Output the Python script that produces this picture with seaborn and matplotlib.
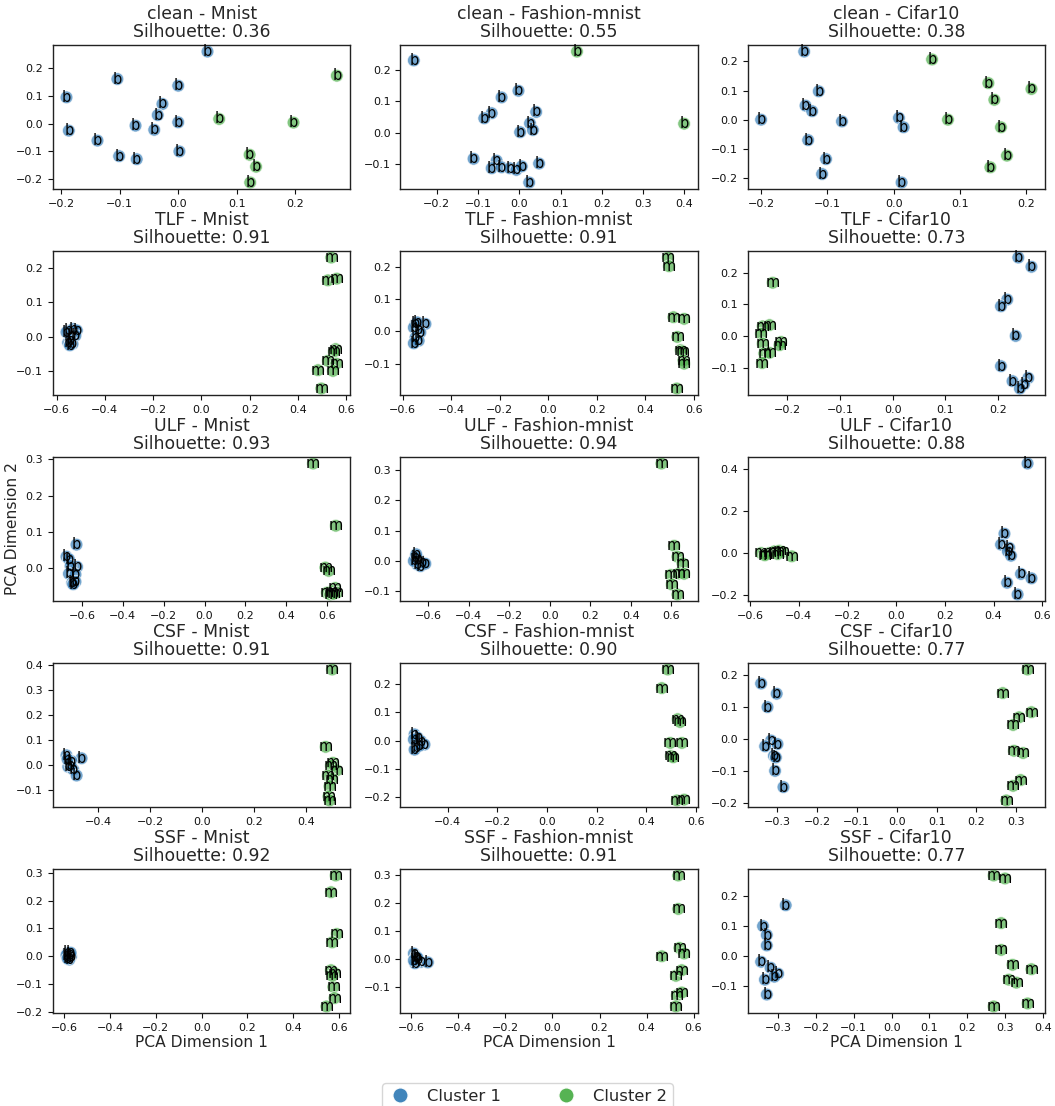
import numpy as np
import pandas as pd
import matplotlib
matplotlib.use("Agg")
import matplotlib.pyplot as plt
from matplotlib.lines import Line2D
import seaborn as sns

# ---- data: 2-D PCA projections of client updates, per attack / dataset ----
methods = ["clean", "TLF", "ULF", "CSF", "SSF"]
datasets = ["Mnist", "Fashion-mnist", "Cifar10"]
silhouette = [[0.36, 0.55, 0.38],
              [0.91, 0.91, 0.73],
              [0.93, 0.94, 0.88],
              [0.91, 0.90, 0.77],
              [0.92, 0.91, 0.77]]

# clean
clean_mnist_x = [0.050, -0.104, 0.000, -0.191, -0.027, -0.035, 0.000, -0.073, -0.041, -0.187, -0.138, 0.002, -0.101, -0.071,
                 0.271, 0.070, 0.197, 0.122, 0.133, 0.123]
clean_mnist_y = [0.260, 0.161, 0.137, 0.095, 0.071, 0.031, 0.005, -0.007, -0.022, -0.025, -0.061, -0.100, -0.117, -0.128,
                 0.173, 0.017, 0.004, -0.112, -0.155, -0.212]
clean_mnist_cluster = [1] * 14 + [2] * 6
clean_mnist_label = "b" * 20

clean_fashion_x = [-0.256, -0.002, -0.043, -0.067, -0.085, 0.041, 0.026, 0.033, 0.002, -0.111, -0.055, 0.048, -0.067,
                   -0.043, -0.023, -0.007, 0.006, 0.024, 0.140, 0.400]
clean_fashion_y = [0.229, 0.133, 0.112, 0.062, 0.046, 0.066, 0.030, 0.009, 0.002, -0.082, -0.088, -0.097, -0.112,
                   -0.109, -0.112, -0.117, -0.106, -0.157, 0.257, 0.029]
clean_fashion_cluster = [1] * 18 + [2] * 2
clean_fashion_label = "b" * 20

clean_cifar_x = [-0.135, -0.113, -0.133, -0.123, -0.200, -0.078, 0.008, 0.015, -0.129, -0.102, -0.108, 0.012,
                 0.058, 0.143, 0.208, 0.152, 0.082, 0.162, 0.171, 0.146]
clean_cifar_y = [0.234, 0.098, 0.049, 0.030, 0.001, -0.005, 0.007, -0.025, -0.069, -0.134, -0.185, -0.214,
                 0.207, 0.126, 0.106, 0.069, 0.001, -0.025, -0.122, -0.162]
clean_cifar_cluster = [1] * 12 + [2] * 8
clean_cifar_label = "b" * 20

# TLF
tlf_mnist_x = [-0.552, -0.531, -0.516, -0.538, -0.522, -0.552, -0.534, -0.542, -0.559, -0.545,
               0.538, 0.524, 0.561, 0.556, 0.549, 0.524, 0.559, 0.483, 0.545, 0.497]
tlf_mnist_y = [0.017, 0.022, 0.018, 0.003, 0.003, -0.017, -0.021, -0.010, 0.013, -0.025,
               0.229, 0.163, 0.168, -0.036, -0.043, -0.070, -0.078, -0.097, -0.099, -0.150]
tlf_mnist_cluster = [1] * 10 + [2] * 10
tlf_mnist_label = "b" * 10 + "m" * 10

tlf_fashion_x = [-0.547, -0.506, -0.534, -0.554, -0.527, -0.547, -0.534, -0.554, -0.540,
                 0.494, 0.498, 0.516, 0.560, 0.532, 0.546, 0.553, 0.557, 0.560, 0.530]
tlf_fashion_y = [0.023, 0.023, 0.007, 0.012, -0.003, -0.019, -0.029, -0.037, 0.028,
                 0.229, 0.202, 0.044, 0.039, -0.017, -0.058, -0.062, -0.090, -0.100, -0.177]
tlf_fashion_cluster = [1] * 9 + [2] * 10
tlf_fashion_label = "b" * 9 + "m" * 10

tlf_cifar_x = [0.239, 0.264, 0.218, 0.206, 0.234, 0.206, 0.228, 0.258, 0.250, 0.242,
               -0.228, -0.247, -0.234, -0.250, -0.212, -0.215, -0.247, -0.244, -0.234, -0.248]
tlf_cifar_y = [0.247, 0.218, 0.115, 0.094, 0.001, -0.094, -0.141, -0.131, -0.151, -0.164,
               0.168, 0.031, 0.035, 0.008, -0.018, -0.028, -0.023, -0.054, -0.052, -0.084]
tlf_cifar_cluster = [1] * 10 + [2] * 10
tlf_cifar_label = "b" * 10 + "m" * 10

# ULF
ulf_mnist_x = [-0.627, -0.676, -0.664, -0.624, -0.656, -0.664, -0.632, -0.648, -0.632, -0.643,
               0.532, 0.643, 0.592, 0.608, 0.640, 0.624, 0.600, 0.648, 0.616, 0.632]
ulf_mnist_y = [0.065, 0.032, 0.025, 0.004, 0.006, -0.015, -0.017, -0.040, -0.037, -0.044,
               0.288, 0.117, 0.002, -0.007, -0.054, -0.063, -0.067, -0.067, -0.072, -0.070]
ulf_mnist_cluster = [1] * 10 + [2] * 10
ulf_mnist_label = "b" * 10 + "m" * 10

ulf_fashion_x = [-0.664, -0.648, -0.631, -0.656, -0.672, -0.639, -0.615, -0.660,
                 0.552, 0.615, 0.631, 0.656, 0.598, 0.639, 0.664, 0.603, 0.631]
ulf_fashion_y = [0.011, 0.006, -0.006, -0.011, 0.000, -0.017, -0.009, 0.022,
                 0.320, 0.050, 0.014, -0.008, -0.046, -0.041, -0.042, -0.077, -0.110]
ulf_fashion_cluster = [1] * 8 + [2] * 9
ulf_fashion_label = "b" * 8 + "m" * 9

ulf_cifar_x = [0.540, 0.445, 0.431, 0.465, 0.459, 0.472, 0.513, 0.556, 0.456, 0.499,
               -0.555, -0.535, -0.521, -0.500, -0.480, -0.467, -0.487, -0.429, -0.540]
ulf_cifar_y = [0.427, 0.092, 0.040, 0.024, 0.008, -0.013, -0.100, -0.121, -0.142, -0.198,
               0.000, -0.005, 0.000, 0.008, 0.011, 0.005, -0.005, -0.016, -0.011]
ulf_cifar_cluster = [1] * 10 + [2] * 9
ulf_cifar_label = "b" * 10 + "m" * 9

# CSF
csf_mnist_x = [-0.522, -0.464, -0.503, -0.515, -0.496, -0.483, -0.506, -0.518,
               0.501, 0.476, 0.504, 0.497, 0.519, 0.485, 0.501, 0.491, 0.487, 0.491]
csf_mnist_y = [0.038, 0.026, 0.015, -0.008, -0.019, -0.043, -0.003, 0.022,
               0.382, 0.072, 0.008, -0.003, -0.022, -0.043, -0.057, -0.086, -0.127, -0.143]
csf_mnist_cluster = [1] * 8 + [2] * 10
csf_mnist_label = "b" * 8 + "m" * 10

csf_fashion_x = [-0.533, -0.520, -0.507, -0.493, -0.527, -0.533, -0.513, -0.536,
                 0.487, 0.463, 0.527, 0.537, 0.497, 0.544, 0.500, 0.509, 0.524, 0.553]
csf_fashion_y = [0.022, 0.010, -0.002, -0.014, -0.026, -0.032, -0.018, 0.004,
                 0.252, 0.186, 0.076, 0.066, -0.008, -0.008, -0.054, -0.059, -0.212, -0.209]
csf_fashion_cluster = [1] * 8 + [2] * 10
csf_fashion_label = "b" * 8 + "m" * 10

csf_cifar_x = [-0.340, -0.301, -0.324, -0.315, -0.299, -0.330, -0.308, -0.303, -0.305, -0.284,
               0.328, 0.266, 0.338, 0.307, 0.292, 0.294, 0.317, 0.311, 0.292, 0.275]
csf_cifar_y = [0.174, 0.142, 0.100, -0.005, -0.016, -0.023, -0.053, -0.058, -0.100, -0.151,
               0.218, 0.144, 0.084, 0.068, 0.044, -0.037, -0.044, -0.129, -0.147, -0.193]
csf_cifar_cluster = [1] * 10 + [2] * 10
csf_cifar_label = "b" * 10 + "m" * 10

# SSF
ssf_mnist_x = [-0.585, -0.575, -0.570, -0.580, -0.590, -0.578, -0.572, -0.585,
               0.585, 0.565, 0.590, 0.570, 0.565, 0.580, 0.575, 0.580, 0.545, 0.570]
ssf_mnist_y = [0.012, 0.008, 0.000, -0.005, 0.004, -0.012, 0.013, -0.008,
               0.290, 0.230, 0.080, 0.050, -0.050, -0.060, -0.110, -0.150, -0.180, -0.070]
ssf_mnist_cluster = [1] * 8 + [2] * 10
ssf_mnist_label = "b" * 8 + "m" * 10

ssf_fashion_x = [-0.590, -0.580, -0.570, -0.560, -0.585, -0.530, -0.575, -0.590,
                 0.535, 0.535, 0.465, 0.540, 0.560, 0.525, 0.550, 0.530, 0.550, 0.525]
ssf_fashion_y = [0.020, 0.010, 0.000, -0.010, -0.015, -0.012, 0.005, -0.005,
                 0.300, 0.180, 0.010, 0.040, 0.020, -0.060, -0.040, -0.130, -0.120, -0.170]
ssf_fashion_cluster = [1] * 8 + [2] * 10
ssf_fashion_label = "b" * 8 + "m" * 10

ssf_cifar_x = [-0.280, -0.340, -0.330, -0.330, -0.345, -0.320, -0.335, -0.300, -0.310, -0.330,
               0.270, 0.300, 0.290, 0.290, 0.320, 0.370, 0.310, 0.330, 0.360, 0.270]
ssf_cifar_y = [0.170, 0.100, 0.070, 0.035, -0.020, -0.040, -0.080, -0.060, -0.070, -0.130,
               0.270, 0.260, 0.110, 0.020, -0.030, -0.045, -0.080, -0.090, -0.160, -0.170]
ssf_cifar_cluster = [1] * 10 + [2] * 10
ssf_cifar_label = "b" * 10 + "m" * 10

panels = [
    [(clean_mnist_x, clean_mnist_y, clean_mnist_cluster, clean_mnist_label),
     (clean_fashion_x, clean_fashion_y, clean_fashion_cluster, clean_fashion_label),
     (clean_cifar_x, clean_cifar_y, clean_cifar_cluster, clean_cifar_label)],
    [(tlf_mnist_x, tlf_mnist_y, tlf_mnist_cluster, tlf_mnist_label),
     (tlf_fashion_x, tlf_fashion_y, tlf_fashion_cluster, tlf_fashion_label),
     (tlf_cifar_x, tlf_cifar_y, tlf_cifar_cluster, tlf_cifar_label)],
    [(ulf_mnist_x, ulf_mnist_y, ulf_mnist_cluster, ulf_mnist_label),
     (ulf_fashion_x, ulf_fashion_y, ulf_fashion_cluster, ulf_fashion_label),
     (ulf_cifar_x, ulf_cifar_y, ulf_cifar_cluster, ulf_cifar_label)],
    [(csf_mnist_x, csf_mnist_y, csf_mnist_cluster, csf_mnist_label),
     (csf_fashion_x, csf_fashion_y, csf_fashion_cluster, csf_fashion_label),
     (csf_cifar_x, csf_cifar_y, csf_cifar_cluster, csf_cifar_label)],
    [(ssf_mnist_x, ssf_mnist_y, ssf_mnist_cluster, ssf_mnist_label),
     (ssf_fashion_x, ssf_fashion_y, ssf_fashion_cluster, ssf_fashion_label),
     (ssf_cifar_x, ssf_cifar_y, ssf_cifar_cluster, ssf_cifar_label)],
]

cluster_colors = {1: "#377eb8", 2: "#4daf4a"}

# ---- figure ----
sns.set_theme(style="ticks")
plt.rcParams["font.family"] = ["DejaVu Sans"]
plt.rcParams["axes.edgecolor"] = "#222222"
plt.rcParams["axes.linewidth"] = 1.0
plt.rcParams["xtick.color"] = "#111111"
plt.rcParams["ytick.color"] = "#111111"

fig, axes = plt.subplots(5, 3, figsize=(10.55, 11.06), dpi=100)
fig.subplots_adjust(left=0.0502, right=0.9905, top=0.9593, bottom=0.0841,
                    wspace=0.168, hspace=0.43)

for r, method in enumerate(methods):
    for c, dataset in enumerate(datasets):
        ax = axes[r, c]
        xs, ys, cl, lab = panels[r][c]
        df = pd.DataFrame({"x": xs, "y": ys, "cluster": cl, "label": list(lab)})
        sns.scatterplot(data=df, x="x", y="y", hue="cluster", palette=cluster_colors,
                        s=85, alpha=0.7, edgecolor="white", linewidth=0.7,
                        legend=False, ax=ax)
        for _, row in df.iterrows():
            ax.text(row["x"], row["y"], row["label"], fontsize=10.5, color="black",
                    ha="center", va="center")
        ax.set_title(f"{method} - {dataset}\nSilhouette: {silhouette[r][c]:.2f}",
                     fontsize=12.4, linespacing=1.0, pad=6)
        ax.tick_params(labelsize=8, length=3.5, width=0.8)
        ax.set_xlabel("")
        ax.set_ylabel("")
        if r == 4:
            ax.set_xlabel("PCA Dimension 1", fontsize=11.2, labelpad=2)

axes[2, 0].set_ylabel("PCA Dimension 2", fontsize=11.2, labelpad=4)

handles = [Line2D([0], [0], marker="o", linestyle="", markersize=11,
                  markerfacecolor=cluster_colors[k], markeredgecolor="white",
                  alpha=0.95, label=f"Cluster {k}") for k in (1, 2)]
fig.legend(handles=handles, loc="upper center", bbox_to_anchor=(0.5, 0.028),
           ncol=2, fontsize=11.8, frameon=True, columnspacing=3.2,
           handlelength=1.5, handletextpad=0.9, borderpad=0.35)

fig.savefig("out.png", dpi=100)
